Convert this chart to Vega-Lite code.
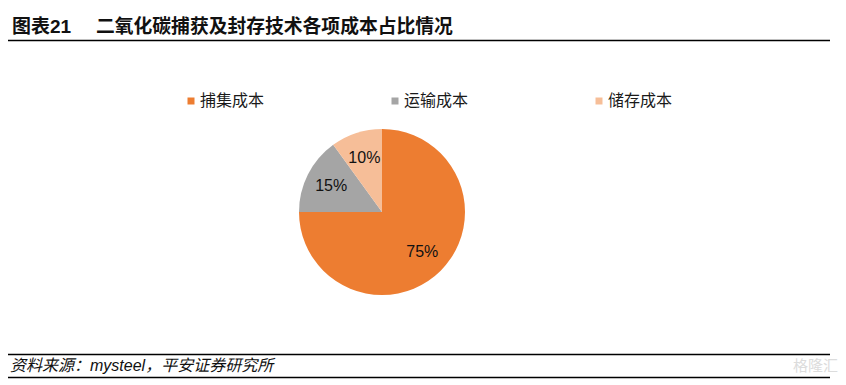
{
  "$schema": "https://vega.github.io/schema/vega-lite/v6.json",
  "width": 846,
  "height": 385,
  "padding": 0,
  "autosize": "none",
  "background": "white",
  "config": {"view": {"stroke": null}},
  "layer": [
    {
      "data": {"values": [
        {"category": "捕集成本", "share": 0.75, "idx": 1},
        {"category": "运输成本", "share": 0.15, "idx": 2},
        {"category": "储存成本", "share": 0.10, "idx": 3}
      ]},
      "layer": [
        {
          "mark": {"type": "arc", "x": 382, "y": 212, "outerRadius": 83, "stroke": null},
          "encoding": {
            "theta": {"field": "share", "type": "quantitative", "stack": true},
            "order": {"field": "idx", "type": "quantitative"},
            "color": {
              "field": "category", "type": "nominal",
              "scale": {"domain": ["捕集成本", "运输成本", "储存成本"], "range": ["#ED7D31", "#A5A5A5", "#F6BE98"]},
              "legend": {
                "title": null, "orient": "none", "legendX": 183, "legendY": 93,
                "direction": "horizontal", "columns": 3, "columnPadding": 122,
                "symbolType": "square", "symbolSize": 49, "symbolStrokeWidth": 0,
                "labelFont": "Noto Sans CJK SC", "labelFontSize": 16, "labelColor": "#1a1a1a",
                "labelOffset": 1, "labelLimit": 200
              }
            }
          }
        },
        {
          "mark": {"type": "text", "x": 382, "y": 212, "radius": 57, "font": "Liberation Sans", "fontSize": 16, "color": "#111111", "align": "center", "baseline": "middle"},
          "encoding": {
            "theta": {"field": "share", "type": "quantitative", "stack": true},
            "order": {"field": "idx", "type": "quantitative"},
            "text": {"field": "share", "type": "quantitative", "format": ".0%"}
          }
        }
      ]
    },
    {
      "data": {"values": [{}]},
      "mark": {"type": "text", "text": "图表21", "x": 12, "y": 27, "align": "left", "baseline": "middle", "font": "Liberation Sans, Noto Sans CJK SC", "fontSize": 19, "fontWeight": "bold", "color": "#111111"},
      "encoding": {}
    },
    {
      "data": {"values": [{}]},
      "mark": {"type": "text", "text": "二氧化碳捕获及封存技术各项成本占比情况", "x": 96, "y": 27, "align": "left", "baseline": "middle", "font": "Noto Sans CJK SC", "fontSize": 18.8, "fontWeight": "bold", "color": "#111111"},
      "encoding": {}
    },
    {
      "data": {"values": [{}]},
      "mark": {"type": "rule", "strokeWidth": 1.3, "color": "#000000"},
      "encoding": {"x": {"value": 8}, "x2": {"value": 830}, "y": {"value": 40.5}, "y2": {"value": 40.5}}
    },
    {
      "data": {"values": [{}]},
      "mark": {"type": "rule", "strokeWidth": 1.3, "color": "#000000"},
      "encoding": {"x": {"value": 8}, "x2": {"value": 830}, "y": {"value": 354.5}, "y2": {"value": 354.5}}
    },
    {
      "data": {"values": [{}]},
      "mark": {"type": "rule", "strokeWidth": 1.3, "color": "#000000"},
      "encoding": {"x": {"value": 8}, "x2": {"value": 830}, "y": {"value": 377.5}, "y2": {"value": 377.5}}
    },
    {
      "data": {"values": [{}]},
      "mark": {"type": "text", "text": "资料来源：mysteel，平安证券研究所", "x": 10, "y": 366, "align": "left", "baseline": "middle", "font": "Liberation Sans, Noto Sans CJK SC", "fontSize": 16, "fontStyle": "italic", "color": "#111111"},
      "encoding": {}
    },
    {
      "data": {"values": [{}]},
      "mark": {"type": "text", "text": "格隆汇", "x": 838, "y": 366, "align": "right", "baseline": "middle", "font": "Noto Sans CJK SC", "fontSize": 15, "color": "#dcdcdc"},
      "encoding": {}
    }
  ]
}
